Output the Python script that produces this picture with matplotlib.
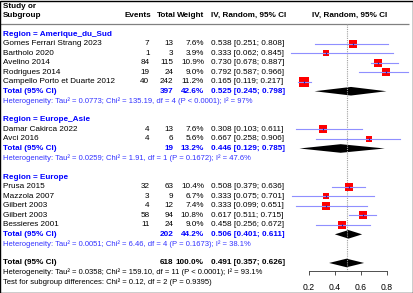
import matplotlib
matplotlib.use("Agg")
import matplotlib.pyplot as plt
from matplotlib.patches import Rectangle

plt.rcParams['font.family'] = ['Liberation Sans', 'DejaVu Sans']

# study level data
study_names = ["Gomes Ferrari Strang 2023", "Bartholo 2020", "Avelino 2014",
               "Rodrigues 2014", "Campello Porto et Duarte 2012",
               "Damar Cakirca 2022", "Avci 2016",
               "Prusa 2015", "Mazzola 2007", "Gilbert 2003", "Gilbert 2003",
               "Bessieres 2001"]
study_group = [0, 0, 0, 0, 0, 1, 1, 2, 2, 2, 2, 2]
events = [7, 1, 84, 19, 40, 4, 4, 32, 3, 4, 58, 11]
totals = [13, 3, 115, 24, 242, 13, 6, 63, 9, 12, 94, 24]
weights = [7.6, 3.9, 10.9, 9.0, 11.2, 7.6, 5.6, 10.4, 6.7, 7.4, 10.8, 9.0]
est = [0.538, 0.333, 0.730, 0.792, 0.165, 0.308, 0.667,
       0.508, 0.333, 0.333, 0.617, 0.458]
lower = [0.251, 0.062, 0.678, 0.587, 0.119, 0.103, 0.258,
         0.379, 0.075, 0.099, 0.511, 0.256]
upper = [0.808, 0.845, 0.887, 0.966, 0.217, 0.611, 0.906,
         0.636, 0.701, 0.651, 0.715, 0.672]

# subgroup summaries
group_labels = ["Region = Amerique_du_Sud", "Region = Europe_Asie", "Region = Europe"]
group_n = [397, 19, 202]
group_weight = [42.6, 13.2, 44.2]
group_est = [0.525, 0.446, 0.506]
group_lower = [0.245, 0.129, 0.401]
group_upper = [0.798, 0.785, 0.611]
group_het = [
    "Heterogeneity: Tau² = 0.0773; Chi² = 135.19, df = 4 (P < 0.0001); I² = 97%",
    "Heterogeneity: Tau² = 0.0259; Chi² = 1.91, df = 1 (P = 0.1672); I² = 47.6%",
    "Heterogeneity: Tau² = 0.0051; Chi² = 6.46, df = 4 (P = 0.1673); I² = 38.1%",
]

# overall
overall_n = 618
overall_weight = 100.0
overall_est = 0.491
overall_lower = 0.357
overall_upper = 0.626
overall_het = "Heterogeneity: Tau² = 0.0358; Chi² = 159.10, df = 11 (P < 0.0001); I² = 93.1%"
subgroup_test = "Test for subgroup differences: Chi² = 0.12, df = 2 (P = 0.9395)"

x_ticks = [0.2, 0.4, 0.6, 0.8]

BLUE = "#0000FF"
HET_BLUE = "#3333FF"
CI_BLUE = "#8f8fff"
FS = 5.9
FS_HET = 5.5

W, H = 414, 293
row_px = 9.54
row0_px = 34
ytop = -row0_px / row_px
ybot = (H - row0_px) / row_px

fig = plt.figure(figsize=(W / 100, H / 100), dpi=100)
ax_t = fig.add_axes([0, 0, 1, 1])
ax_t.set_xlim(0, W)
ax_t.set_ylim(ybot, ytop)
ax_t.axis('off')

# forest panel: 0.2 sits at pixel 308.7, 130 px per unit
f_left = 280
px_per_unit = 130.0
ax_f = fig.add_axes([f_left / W, 0, 1 - f_left / W, 1])
ax_f.set_xlim(0.2 - (308.7 - f_left) / px_per_unit, 0.2 + (W - 308.7) / px_per_unit)
ax_f.set_ylim(ybot, ytop)
ax_f.patch.set_alpha(0)
for s in ['top', 'left', 'right']:
    ax_f.spines[s].set_visible(False)
ax_f.set_yticks([])

x_study, x_ev, x_tot, x_wt, x_ci = 3, 149.5, 173.5, 204, 210.7

# header
ax_t.text(x_study, (6 - row0_px) / row_px, "Study or", fontsize=FS, fontweight='bold', va='center')
hy = (15.5 - row0_px) / row_px
ax_t.text(x_study, hy, "Subgroup", fontsize=FS, fontweight='bold', va='center')
ax_t.text(151.5, hy, "Events", fontsize=FS, fontweight='bold', va='center', ha='right')
ax_t.text(175.5, hy, "Total", fontsize=FS, fontweight='bold', va='center', ha='right')
ax_t.text(x_wt, hy, "Weight", fontsize=FS, fontweight='bold', va='center', ha='right')
ax_t.text(x_ci, hy, "IV, Random, 95% CI", fontsize=FS, fontweight='bold', va='center')
ax_t.text(350, hy, "IV, Random, 95% CI", fontsize=FS, fontweight='bold', va='center', ha='center')
ax_t.hlines((24 - row0_px) / row_px, 0, 409, color='#808080', lw=0.9)


def diamond(ax, r, e, lo, hi, h=0.45):
    ax.fill([lo, e, hi, e], [r, r - h, r, r + h], color='black', lw=0)


r = 0
for g in range(len(group_labels)):
    ax_t.text(x_study, r, group_labels[g], fontsize=FS, fontweight='bold', color=BLUE, va='center')
    r += 1
    for i in [k for k in range(len(study_names)) if study_group[k] == g]:
        ax_t.text(x_study, r, study_names[i], fontsize=FS, va='center')
        ax_t.text(x_ev, r, str(events[i]), fontsize=FS, va='center', ha='right')
        ax_t.text(x_tot, r, str(totals[i]), fontsize=FS, va='center', ha='right')
        ax_t.text(x_wt, r, f"{weights[i]:.1f}%", fontsize=FS, va='center', ha='right')
        ax_t.text(x_ci, r, f"{est[i]:.3f} [{lower[i]:.3f}; {upper[i]:.3f}]", fontsize=FS, va='center')
        ms = 6.5 * (weights[i] / 11.2) ** 0.5
        ax_f.plot([est[i]], [r], marker='s', ms=ms, color='red', mew=0, zorder=3)
        ax_f.plot([lower[i], upper[i]], [r, r], color=CI_BLUE, lw=0.8, zorder=4, clip_on=False)
        ax_f.plot([est[i]], [r], marker='|', ms=2, color='#2020c0', mew=0.8, zorder=5)
        r += 1
    ax_t.text(x_study, r, "Total (95% CI)", fontsize=FS, fontweight='bold', color=BLUE, va='center')
    ax_t.text(x_tot, r, str(group_n[g]), fontsize=FS, fontweight='bold', color=BLUE, va='center', ha='right')
    ax_t.text(x_wt, r, f"{group_weight[g]:.1f}%", fontsize=FS, fontweight='bold', color=BLUE, va='center', ha='right')
    ax_t.text(x_ci, r, f"{group_est[g]:.3f} [{group_lower[g]:.3f}; {group_upper[g]:.3f}]",
              fontsize=FS, fontweight='bold', color=BLUE, va='center')
    diamond(ax_f, r, group_est[g], group_lower[g], group_upper[g])
    r += 1
    ax_t.text(x_study, r, group_het[g], fontsize=FS_HET, color=HET_BLUE, va='center')
    r += 2

ax_t.text(x_study, r, "Total (95% CI)", fontsize=FS, fontweight='bold', va='center')
ax_t.text(x_tot, r, str(overall_n), fontsize=FS, fontweight='bold', va='center', ha='right')
ax_t.text(x_wt, r, f"{overall_weight:.1f}%", fontsize=FS, fontweight='bold', va='center', ha='right')
ax_t.text(x_ci, r, f"{overall_est:.3f} [{overall_lower:.3f}; {overall_upper:.3f}]",
          fontsize=FS, fontweight='bold', va='center')
diamond(ax_f, r, overall_est, overall_lower, overall_upper)
axis_row = r + 0.84
ax_t.text(x_study, r + 1, overall_het, fontsize=FS_HET, va='center')
ax_t.text(x_study, r + 2, subgroup_test, fontsize=FS_HET, va='center')

# reference line at pooled estimate
ax_f.vlines(overall_est, (24 - row0_px) / row_px, axis_row, color='#a0a0a0',
            lw=0.8, linestyles=(0, (1, 1)), zorder=1)

# x axis
ax_f.spines['bottom'].set_position(('data', axis_row))
ax_f.spines['bottom'].set_bounds(x_ticks[0], x_ticks[-1])
ax_f.spines['bottom'].set_linewidth(0.6)
ax_f.spines['bottom'].set_color('#333333')
ax_f.set_xticks(x_ticks)
ax_f.set_xticklabels([f"{t:.1f}" for t in x_ticks])
ax_f.tick_params(axis='x', direction='out', length=3, width=0.6, color='#333333',
                 labelsize=6.2, pad=5.5)

fig.patches.append(Rectangle((0.5 / W, 0.5 / H), 1 - 1.5 / W, 1 - 1.5 / H, transform=fig.transFigure,
                             fill=False, edgecolor='black', lw=1))

fig.savefig("out.png", dpi=100)
